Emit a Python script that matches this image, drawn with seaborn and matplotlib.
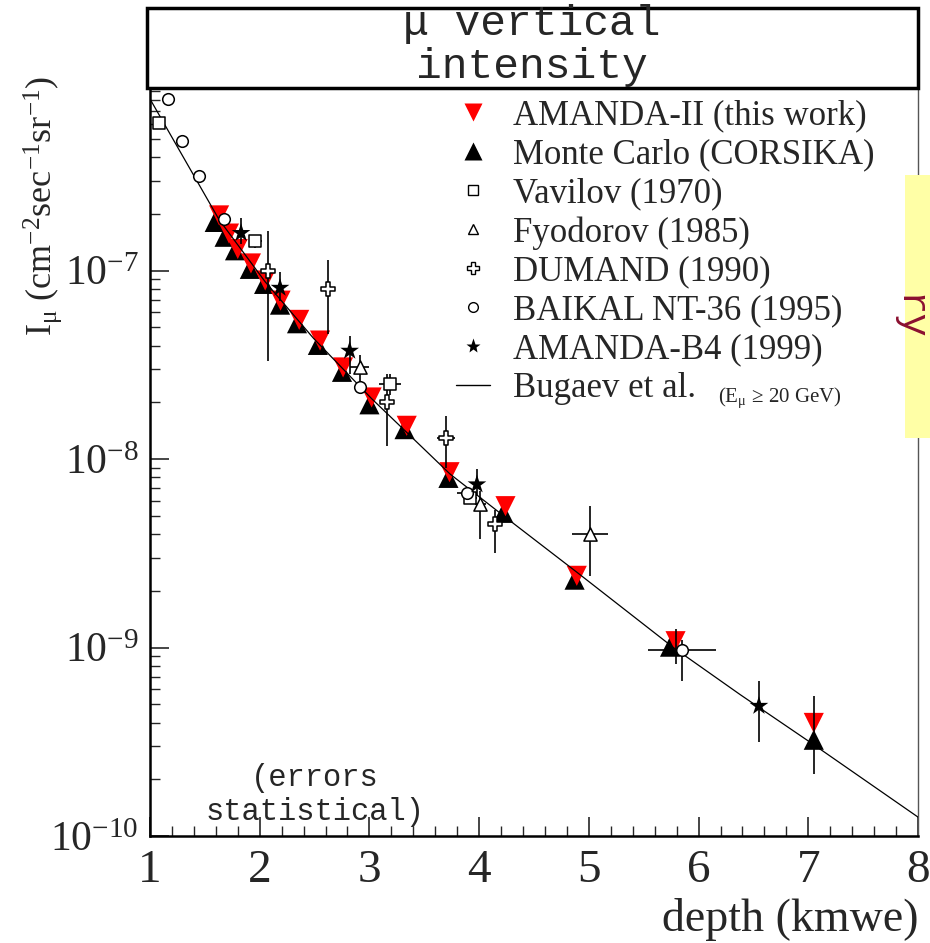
import matplotlib
matplotlib.use("Agg")
import numpy as np
import matplotlib.pyplot as plt
import seaborn as sns
from matplotlib.lines import Line2D
from matplotlib.patches import Rectangle
from matplotlib.ticker import MultipleLocator, FuncFormatter, FixedLocator, LogLocator, NullFormatter

# AMANDA-II (this work)
a2_depth = [1.63, 1.72, 1.80, 1.92, 2.05, 2.19, 2.36, 2.55, 2.76, 3.02, 3.34, 3.73, 4.24, 4.89, 5.79, 7.05]
a2_flux = [1.96e-7, 1.57e-7, 1.30e-7, 1.09e-7, 8.85e-8, 6.92e-8, 5.47e-8, 4.25e-8, 3.06e-8, 2.12e-8,
           1.50e-8, 8.51e-9, 5.62e-9, 2.40e-9, 1.08e-9, 3.98e-10]
a2_lo = [1.96e-7, 1.57e-7, 1.30e-7, 1.09e-7, 8.85e-8, 6.92e-8, 5.47e-8, 4.25e-8, 3.06e-8, 2.12e-8,
         1.50e-8, 8.51e-9, 5.62e-9, 2.40e-9, 8.13e-10, 2.14e-10]
a2_hi = [1.96e-7, 1.57e-7, 1.30e-7, 1.09e-7, 8.85e-8, 6.92e-8, 5.47e-8, 4.25e-8, 3.06e-8, 2.12e-8,
         1.50e-8, 8.51e-9, 5.62e-9, 2.40e-9, 1.26e-9, 5.56e-10]

# Monte Carlo (CORSIKA)
mc_depth = [1.59, 1.68, 1.775, 1.91, 2.04, 2.185, 2.34, 2.53, 2.75, 3.00, 3.32, 3.72, 4.22, 4.87, 5.74, 7.05]
mc_flux = [1.81e-7, 1.51e-7, 1.28e-7, 1.02e-7, 8.49e-8, 6.59e-8, 5.25e-8, 4.03e-8, 2.90e-8, 1.95e-8,
           1.44e-8, 7.94e-9, 5.18e-9, 2.29e-9, 1.01e-9, 3.24e-10]

# Vavilov (1970)
vav_depth = [1.08, 1.96, 3.19, 3.92]
vav_flux = [6.03e-7, 1.43e-7, 2.51e-8, 6.21e-9]
vav_xerr = [0.0, 0.06, 0.10, 0.06]
vav_lo = [6.03e-7, 1.32e-7, 2.19e-8, 6.21e-9]
vav_hi = [6.03e-7, 1.55e-7, 2.82e-8, 6.21e-9]

# Fyodorov (1985)
fyo_depth = [2.91, 4.01, 5.01]
fyo_flux = [3.06e-8, 5.75e-9, 4.01e-9]
fyo_xerr = [0.09, 0.05, 0.16]
fyo_lo = [2.51e-8, 3.75e-9, 2.40e-9]
fyo_hi = [3.55e-8, 6.76e-9, 5.62e-9]

# DUMAND (1990)
dum_depth = [2.08, 2.625, 3.16, 3.70, 4.145]
dum_flux = [9.89e-8, 8.00e-8, 2.00e-8, 1.29e-8, 4.50e-9]
dum_xerr = [0.0, 0.0, 0.0, 0.08, 0.0]
dum_lo = [3.31e-8, 4.60e-8, 1.17e-8, 8.91e-9, 3.16e-9]
dum_hi = [1.62e-7, 1.13e-7, 2.82e-8, 1.70e-8, 5.37e-9]

# BAIKAL NT-36 (1995)
bai_depth = [1.16, 1.29, 1.45, 1.67, 2.91, 3.89, 5.85]
bai_flux = [8.09e-7, 4.88e-7, 3.16e-7, 1.88e-7, 2.40e-8, 6.61e-9, 9.72e-10]
bai_xerr = [0.0, 0.0, 0.0, 0.0, 0.0, 0.09, 0.31]
bai_lo = [8.09e-7, 4.88e-7, 3.16e-7, 1.88e-7, 2.40e-8, 6.61e-9, 6.61e-10]
bai_hi = [8.09e-7, 4.88e-7, 3.16e-7, 1.88e-7, 2.40e-8, 6.61e-9, 1.10e-9]

# AMANDA-B4 (1999)
b4_depth = [1.83, 2.185, 2.82, 3.98, 6.55]
b4_flux = [1.58e-7, 8.09e-8, 3.75e-8, 7.33e-9, 4.90e-10]
b4_lo = [1.39e-7, 6.92e-8, 2.83e-8, 6.35e-9, 3.16e-10]
b4_hi = [1.905e-7, 9.77e-8, 4.51e-8, 8.85e-9, 6.67e-10]

# Bugaev et al. prediction
bug_depth = [1.0, 1.63, 2.05, 2.49, 3.02, 3.735, 4.22, 4.89, 5.77, 6.38, 7.05, 8.0]
bug_flux = [8.13e-7, 1.86e-7, 8.71e-8, 4.37e-8, 2.09e-8, 8.32e-9, 5.01e-9, 2.51e-9, 1.00e-9,
            5.62e-10, 3.05e-10, 1.26e-10]

sns.set_style("ticks")
plt.rcParams["font.family"] = ["Liberation Serif", "DejaVu Serif"]
plt.rcParams["mathtext.fontset"] = "custom"
plt.rcParams["mathtext.rm"] = "Liberation Serif"
plt.rcParams["mathtext.it"] = "Liberation Serif:italic"
plt.rcParams["mathtext.bf"] = "Liberation Serif:bold"

W, H = 930, 943
fig = plt.figure(figsize=(W / 100, H / 100), dpi=100)
ax = fig.add_axes([150 / W, 1 - 836 / H, 768 / W, 754 / H])


def yerr(val, lo, hi):
    v = np.array(val)
    return [v - np.array(lo), np.array(hi) - v]


# model + this work
sns.scatterplot(x=mc_depth, y=mc_flux, marker="^", s=210, color="black", edgecolor="none",
                ax=ax, zorder=3, legend=False)
sns.scatterplot(x=a2_depth, y=a2_flux, marker="v", s=210, color="#ff0000", edgecolor="none",
                ax=ax, zorder=4, legend=False)
ax.errorbar(a2_depth, a2_flux, yerr=yerr(a2_flux, a2_lo, a2_hi), fmt="none", ecolor="black",
            elinewidth=1.2, capsize=0, zorder=5)
sns.lineplot(x=bug_depth, y=bug_flux, color="black", lw=0.9, ax=ax, zorder=5)

# older measurements, error bars first
for d, f, xe, lo, hi in [(vav_depth, vav_flux, vav_xerr, vav_lo, vav_hi),
                         (fyo_depth, fyo_flux, fyo_xerr, fyo_lo, fyo_hi),
                         (dum_depth, dum_flux, dum_xerr, dum_lo, dum_hi),
                         (bai_depth, bai_flux, bai_xerr, bai_lo, bai_hi),
                         (b4_depth, b4_flux, [0] * len(b4_depth), b4_lo, b4_hi)]:
    ax.errorbar(d, f, xerr=xe, yerr=yerr(f, lo, hi), fmt="none", ecolor="black",
                elinewidth=1.2, capsize=0, zorder=6)

open_kw = dict(color="white", edgecolor="black", linewidth=1.1, ax=ax, zorder=7, legend=False)
sns.scatterplot(x=vav_depth, y=vav_flux, marker="s", s=70, **open_kw)
sns.scatterplot(x=fyo_depth, y=fyo_flux, marker="^", s=90, **open_kw)
sns.scatterplot(x=dum_depth, y=dum_flux, marker="P", s=100, **open_kw)
sns.scatterplot(x=bai_depth, y=bai_flux, marker="o", s=70, **open_kw)
sns.scatterplot(x=b4_depth, y=b4_flux, marker="*", s=200, color="black", edgecolor="none",
                ax=ax, zorder=7, legend=False)

ax.set_yscale("log")
ax.set_xlim(1, 8)
ax.set_ylim(1e-10, 1e-6)

ax.xaxis.set_major_locator(MultipleLocator(1))
ax.xaxis.set_minor_locator(MultipleLocator(0.2))
ax.yaxis.set_major_locator(FixedLocator([1e-10, 1e-9, 1e-8, 1e-7]))
ax.yaxis.set_minor_locator(LogLocator(base=10, subs=np.arange(2, 10), numticks=20))
ax.yaxis.set_minor_formatter(NullFormatter())
ax.yaxis.set_major_formatter(FuncFormatter(lambda v, p: r"$\mathrm{10^{%d}}$" % round(np.log10(v))))
ax.tick_params(which="major", direction="in", length=14, width=1.2, top=False, right=False)
ax.tick_params(which="minor", direction="in", length=7, width=1.0, top=False, right=False)
ax.tick_params(axis="x", labelsize=34, pad=10)
ax.tick_params(axis="y", labelsize=30, pad=8)

for s in ["left", "bottom"]:
    ax.spines[s].set_linewidth(1.8)
    ax.spines[s].set_color("black")
ax.spines["right"].set_linewidth(1.0)
ax.spines["right"].set_color("#555555")
ax.spines["top"].set_visible(False)

ax.set_xlabel("depth (kmwe)", fontsize=33, loc="right", labelpad=4)
ax.set_ylabel(r"$\mathrm{I_{μ}\ (cm^{-2}sec^{-1}sr^{-1})}$", fontsize=26, loc="top")
ax.yaxis.set_label_coords(-0.112, 1.008)

handles = [
    Line2D([], [], ls="none", marker="v", color="#ff0000", markeredgecolor="none", markersize=13),
    Line2D([], [], ls="none", marker="^", color="black", markeredgecolor="none", markersize=13),
    Line2D([], [], ls="none", marker="s", markerfacecolor="white", markeredgecolor="black", markersize=7),
    Line2D([], [], ls="none", marker="^", markerfacecolor="white", markeredgecolor="black", markersize=7),
    Line2D([], [], ls="none", marker="P", markerfacecolor="white", markeredgecolor="black", markersize=8),
    Line2D([], [], ls="none", marker="o", markerfacecolor="white", markeredgecolor="black", markersize=7),
    Line2D([], [], ls="none", marker="*", color="black", markeredgecolor="none", markersize=11),
    Line2D([], [], color="black", lw=1.0),
]
labels = ["AMANDA-II (this work)", "Monte Carlo (CORSIKA)", "Vavilov (1970)", "Fyodorov (1985)",
          "DUMAND (1990)", "BAIKAL NT-36 (1995)", "AMANDA-B4 (1999)", "Bugaev et al."]
ax.legend(handles, labels, loc="upper left", bbox_to_anchor=(0.398, 0.977), frameon=False,
          fontsize=25, handlelength=1.0, handletextpad=0.65, labelspacing=0.17,
          borderpad=0, borderaxespad=0)
fig.text(718 / W, 1 - 402 / H, r"(E$_{\mathrm{μ}}$ ≥ 20 GeV)", fontsize=15, va="baseline")

# title box
fig.patches.append(Rectangle((147 / W, 1 - 88 / H), 771 / W, 80 / H, transform=fig.transFigure,
                             facecolor="white", edgecolor="black", lw=2.5, zorder=10))
fig.text(532 / W, 1 - 35 / H, "μ vertical", family="Liberation Mono", fontsize=31,
         ha="center", va="baseline", zorder=11)
fig.text(532 / W, 1 - 78 / H, "intensity", family="Liberation Mono", fontsize=31,
         ha="center", va="baseline", zorder=11)

fig.text(315 / W, 1 - 786 / H, "(errors", family="Liberation Mono", fontsize=22,
         ha="center", va="baseline", zorder=11)
fig.text(315 / W, 1 - 820 / H, "statistical)", family="Liberation Mono", fontsize=22,
         ha="center", va="baseline", zorder=11)

# clipped yellow note on the right edge
fig.patches.append(Rectangle((905 / W, 1 - 438 / H), 25 / W, 263 / H, transform=fig.transFigure,
                             facecolor="#ffffa6", edgecolor="none", zorder=10))
fig.text(908 / W, 1 - 317 / H, "ry", family="Liberation Mono", fontsize=28, rotation=-90,
         color="#8b1030", ha="center", va="center", zorder=11)

fig.savefig("out.png", dpi=100)
